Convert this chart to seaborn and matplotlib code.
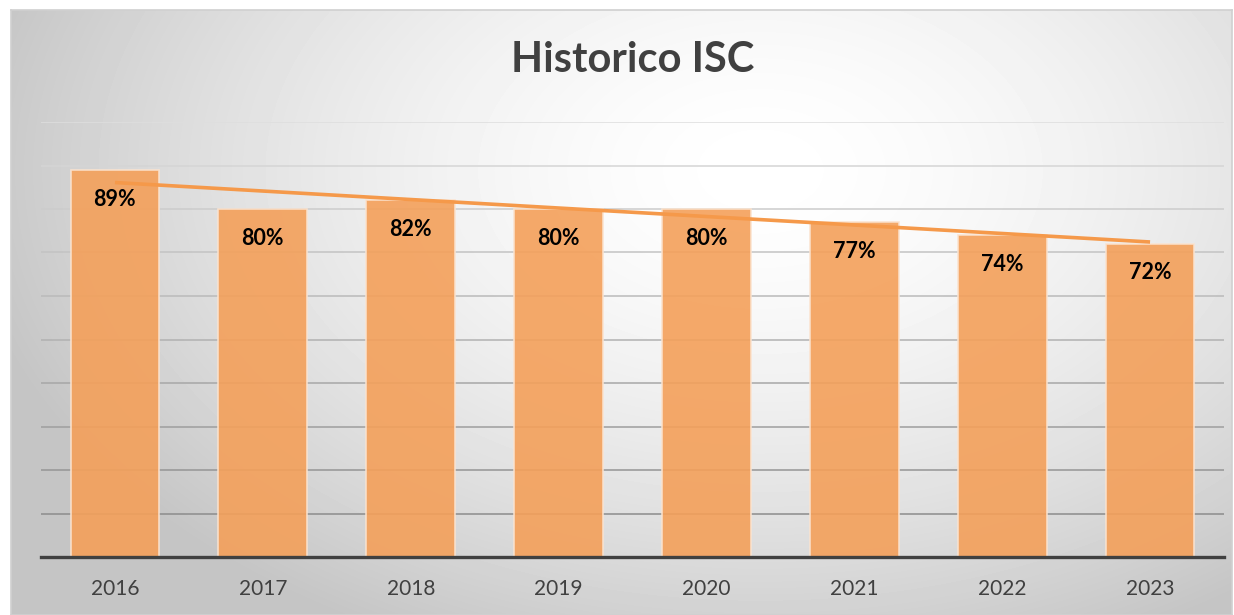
import matplotlib
matplotlib.use("Agg")
import matplotlib.pyplot as plt
import seaborn as sns
import numpy as np
import pandas as pd

# data
years = ["2016", "2017", "2018", "2019", "2020", "2021", "2022", "2023"]
isc = [0.89, 0.80, 0.82, 0.80, 0.80, 0.77, 0.74, 0.72]

df = pd.DataFrame({"Año": years, "ISC": isc})

sns.set_theme(style="white")
plt.rcParams["font.family"] = ["Lato", "DejaVu Sans"]

W, H = 1234, 615
fig = plt.figure(figsize=(W / 100, H / 100), dpi=100)
fig.patch.set_facecolor("white")

# chart-area background: soft radial gradient like the Excel style
bg = fig.add_axes([11 / W, 0, (W - 13) / W, (H - 10) / H], zorder=-2)
yy, xx = np.mgrid[10:H, 11:W - 2]
d = np.sqrt(((xx - 760) / 800.0) ** 2 + ((yy - 170) / 520.0) ** 2)
shade = 255 - 58 * np.clip(d, 0, 1) ** 1.6
bg.imshow(shade, cmap="gray", vmin=0, vmax=255, aspect="auto", interpolation="bilinear")
bg.set_xticks([])
bg.set_yticks([])
for s in bg.spines.values():
    s.set_color("#d0d0d0")
    s.set_linewidth(1.2)

ax = fig.add_axes([41 / W, 1 - 557 / H, (1224 - 41) / W, (557 - 122) / H])
ax.patch.set_alpha(0)

sns.barplot(data=df, x="Año", y="ISC", color="#F4A05A", saturation=1, width=0.6,
            alpha=0.9, edgecolor="#FBE3CF", linewidth=1.2, ax=ax, zorder=3)

# linear trend line
sns.regplot(x=np.arange(len(isc)), y=np.array(isc), scatter=False, ci=None, truncate=True,
            line_kws={"color": "#F5994A", "lw": 2.6, "zorder": 4, "solid_capstyle": "butt"}, ax=ax)

ax.set_xlim(-0.5, len(years) - 0.5)
ax.set_ylim(0, 1.0)
ax.set_yticks(np.arange(0.1, 1.01, 0.1))
ticks = ax.get_yticks()
for i, t in enumerate(ticks):
    f = i / (len(ticks) - 1)
    g = 0.55 + 0.32 * f
    ax.axhline(t, color=(g, g, g), lw=1.1, zorder=1)

for i, v in enumerate(isc):
    ax.annotate(f"{v:.0%}", (i, v), xytext=(0, -21), textcoords="offset points",
                ha="center", va="center", fontsize=15.5, fontweight="bold", color="black", zorder=5)

ax.set_xlabel("")
ax.set_ylabel("")
ax.set_yticklabels([])
ax.tick_params(axis="y", length=0)
ax.tick_params(axis="x", length=0, pad=16, labelsize=15, labelcolor="#404040")
for s in ["top", "right", "left"]:
    ax.spines[s].set_visible(False)
ax.spines["bottom"].set_color("#404040")
ax.spines["bottom"].set_linewidth(2.4)
ax.spines["bottom"].set_zorder(6)

fig.text(633 / W, 1 - 60 / H, "Historico ISC", ha="center", va="center",
         fontsize=30, fontweight="bold", color="#404040")

fig.savefig("out.png", dpi=100)
